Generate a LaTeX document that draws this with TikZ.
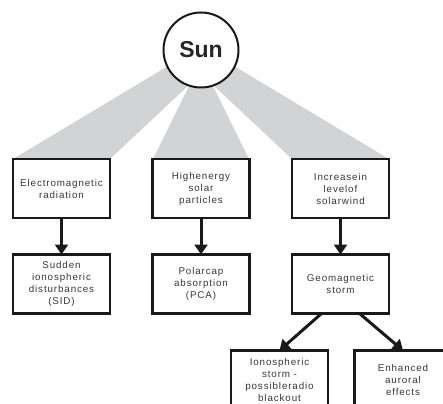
\documentclass[tikz,border=0pt]{standalone}
\usepackage{fontspec}
\setmainfont{Liberation Sans}
\newfontfamily\boxfont[LetterSpace=9]{Liberation Sans}
\usetikzlibrary{arrows.meta}
\definecolor{fangray}{RGB}{209,211,213}
\definecolor{txtgray}{RGB}{55,55,55}
\tikzset{
  boxnode/.style={draw=black!90, line width=2.2pt, fill=white, minimum width=97pt, minimum height=59pt,
    inner sep=0pt, outer sep=0pt, align=center, text=txtgray, font=\boxfont\fontsize{9.8}{12}\selectfont},
  flow/.style={line width=3pt, draw=black!90, -{Triangle[width=13pt,length=10pt]}},
  fan/.style={fill=fangray, draw=none}
}
\begin{document}
\begin{tikzpicture}[x=1pt,y=-1pt]
\useasboundingbox (0,0) rectangle (443,403);
\clip (0,0) rectangle (443,403);
% fans
\fill[fan] (13,159) -- (110,159) -- (190,84) -- (178,60) -- cycle;
\fill[fan] (153,159) -- (249,159) -- (212,84) -- (190,84) -- cycle;
\fill[fan] (292,159) -- (389,159) -- (224,60) -- (212,84) -- cycle;
% sun
\node[circle, draw=black!90, line width=2pt, fill=white, minimum size=75pt, inner sep=0pt,
  font=\bfseries\fontsize{23}{26}\selectfont, text=black!85] (sun) at (201,50) {Sun};
% row 1
\node[boxnode] (em) at (61.5,188.5) {Electromagnetic\\radiation};
\node[boxnode] (hi) at (201,188.5) {Highenergy\\solar\\particles};
\node[boxnode] (inc) at (340.5,188.5) {Increasein\\levelof\\solarwind};
% row 2
\node[boxnode] (sid) at (61.5,284) {Sudden\\ionospheric\\disturbances\\(SID)};
\node[boxnode] (pca) at (201,284) {Polarcap\\absorption\\(PCA)};
\node[boxnode] (geo) at (340.5,284) {Geomagnetic\\storm};
% row 3
\node[boxnode] (ion) at (279.5,380) {Ionospheric\\storm -\\possibleradio\\blackout};
\node[boxnode] (aur) at (403,380) {Enhanced\\auroral\\effects};
% arrows
\draw[flow] (em.south) -- (sid.north);
\draw[flow] (hi.south) -- (pca.north);
\draw[flow] (inc.south) -- (geo.north);
\draw[flow] ([xshift=-19pt]geo.south) -- (ion.north);
\draw[flow] ([xshift=19pt]geo.south) -- (aur.north);
\end{tikzpicture}
\end{document}
